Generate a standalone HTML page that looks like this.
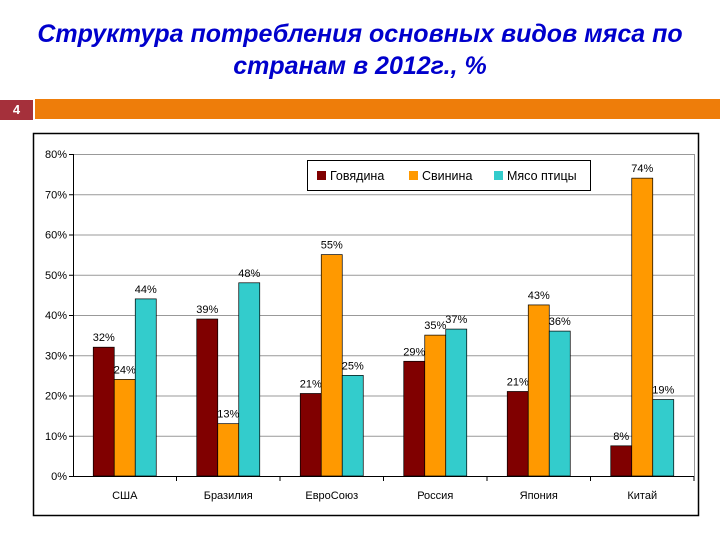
<!DOCTYPE html>
<html><head><meta charset="utf-8"><style>
body{margin:0;width:720px;height:540px;background:#fff;font-family:"Liberation Sans",sans-serif;overflow:hidden;position:relative}
#title{position:absolute;left:0;top:18px;width:720px;text-align:center;color:#0000CC;font-style:italic;font-weight:bold;font-size:25px;line-height:32px}
#num{position:absolute;left:0;top:100px;width:33px;height:20px;background:#A5303B;color:#fff;font-size:13px;font-weight:bold;text-align:center;line-height:20px}
#bar{position:absolute;left:35px;top:99px;width:685px;height:20px;background:#EE7D0A}
</style></head><body>
<div id="title">Структура потребления основных видов мяса по<br>странам в 2012г., %</div>
<div id="num">4</div>
<div id="bar"></div>
<svg width="720" height="540" style="position:absolute;left:0;top:0">
<rect x="33.5" y="133.5" width="665" height="382" fill="none" stroke="#000" stroke-width="1.5"/>
<g id="grid"></g><g id="bars"></g><g id="labels"></g>
<g>
<rect x="307.5" y="160.5" width="283" height="30" fill="#fff" stroke="#000"/>
<rect x="317" y="171" width="9" height="9" fill="#800000"/>
<text x="330" y="180" font-size="12.5">Говядина</text>
<rect x="409" y="171" width="9" height="9" fill="#FF9900"/>
<text x="422" y="180" font-size="12.5">Свинина</text>
<rect x="494" y="171" width="9" height="9" fill="#33CCCC"/>
<text x="507" y="180" font-size="12.5">Мясо птицы</text>
</g>
</svg>
<script>
const categories=["США","Бразилия","ЕвроСоюз","Россия","Япония","Китай"];
const beef=[32,39,20.5,28.5,21,7.5];
const pork=[24,13,55,35,42.5,74];
const poultry=[44,48,25,36.5,36,19];
const beefLabels=["32%","39%","21%","29%","21%","8%"];
const porkLabels=["24%","13%","55%","35%","43%","74%"];
const poultryLabels=["44%","48%","25%","37%","36%","19%"];
const yTicks=[0,10,20,30,40,50,60,70,80];
const NS="http://www.w3.org/2000/svg";
const X0=73,X1=694,Y0=476,Y1=154;
const y=v=>Y0-(v/80)*(Y0-Y1);
const gw=(X1-X0)/categories.length;
const cx=i=>X0+gw*(i+0.5);
function mk(tag,attrs,parent){const e=document.createElementNS(NS,tag);for(const k in attrs)e.setAttribute(k,attrs[k]);document.getElementById(parent).appendChild(e);return e;}
yTicks.forEach(t=>{
 if(t>0){const l=mk('line',{x1:X0,x2:X1,y1:y(t)+.5,y2:y(t)+.5,stroke:'#999'},'grid');
 
 }
 mk('line',{x1:X0-4,x2:X0,y1:y(t)+.5,y2:y(t)+.5,stroke:'#000'},'grid');
 const tx=mk('text',{x:X0-6,y:y(t)+4,'text-anchor':'end','font-size':11},'grid');
 tx.textContent=t+'%';
 
 
});
mk('line',{x1:X1+.5,x2:X1+.5,y1:Y1,y2:Y0,stroke:'#999'},'grid');
mk('line',{x1:X0+.5,x2:X0+.5,y1:Y1,y2:Y0,stroke:'#000'},'grid');
mk('line',{x1:X0,x2:X1,y1:Y0+.5,y2:Y0+.5,stroke:'#000'},'grid');
categories.forEach((c,i)=>{
 mk('line',{x1:X0+gw*(i+1),x2:X0+gw*(i+1),y1:Y0,y2:Y0+5,stroke:'#000'},'grid');
 const t=mk('text',{x:cx(i),y:Y0+23,'text-anchor':'middle','font-size':11},'labels');
 t.textContent=c;
 
 
});
const series=[[beef,'#800000',beefLabels,'beef'],[pork,'#FF9900',porkLabels,'pork'],[poultry,'#33CCCC',poultryLabels,'poultry']];
const bw=21;
series.forEach((s,si)=>{
 s[0].forEach((v,i)=>{
  const x=cx(i)-1.5*bw+si*bw;
  const r=mk('rect',{x:x,y:y(v),width:bw,height:Y0-y(v),fill:s[1],stroke:'#000','stroke-width':0.7},'bars');
  
  
  const t=mk('text',{x:x+bw/2,y:y(v)-6,'text-anchor':'middle','font-size':11},'labels');
  t.textContent=s[2][i];
  
  
 });
});
</script>
</body></html>
